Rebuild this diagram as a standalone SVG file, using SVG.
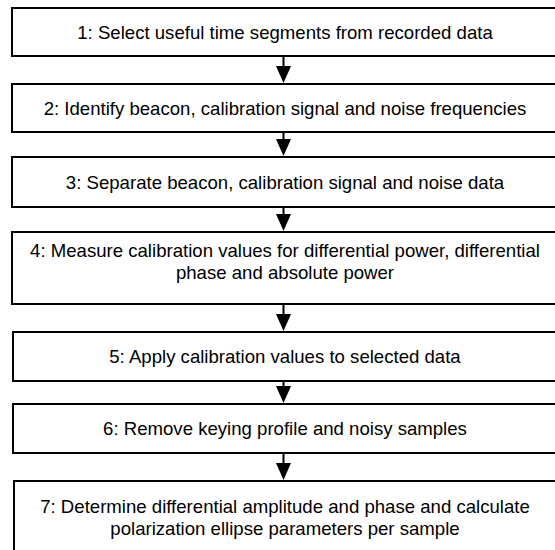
<svg xmlns="http://www.w3.org/2000/svg" width="555" height="550" viewBox="0 0 555 550">
  <style>
    .box { fill: #ffffff; stroke: #000000; stroke-width: 2; }
    .label { font-family: "Liberation Sans", Arial, sans-serif; font-size: 18.6px; fill: #000000; text-anchor: middle; }
    .link { stroke: #000000; stroke-width: 2; fill: none; }
    .head { fill: #000000; }
  </style>
  <defs>
    <!-- downward arrow head, tip at (0,0) -->
    <g id="arrow-head">
      <polygon class="head" points="-7.5,-17 7.5,-17 0,0"/>
    </g>
  </defs>
  <rect x="0" y="0" width="555" height="550" fill="#ffffff"/>

  <g id="connectors">
    <line class="link" x1="283.5" y1="56" x2="283.5" y2="66"/>
    <use href="#arrow-head" x="283.5" y="83"/>
    <line class="link" x1="283.5" y1="132" x2="283.5" y2="139"/>
    <use href="#arrow-head" x="283.5" y="156"/>
    <line class="link" x1="283.5" y1="207" x2="283.5" y2="214"/>
    <use href="#arrow-head" x="283.5" y="231"/>
    <line class="link" x1="283.5" y1="304" x2="283.5" y2="314"/>
    <use href="#arrow-head" x="283.5" y="331"/>
    <line class="link" x1="283.5" y1="381" x2="283.5" y2="386"/>
    <use href="#arrow-head" x="283.5" y="403"/>
    <line class="link" x1="283.5" y1="453" x2="283.5" y2="463"/>
    <use href="#arrow-head" x="283.5" y="480"/>
  </g>

  <g id="step1">
    <rect class="box" x="12" y="8" width="545" height="48"/>
    <text class="label" x="285" y="38.6">1: Select useful time segments from recorded data</text>
  </g>
  <g id="step2">
    <rect class="box" x="12" y="84" width="545" height="48"/>
    <text class="label" x="285" y="114.6">2: Identify beacon, calibration signal and noise frequencies</text>
  </g>
  <g id="step3">
    <rect class="box" x="12" y="157" width="545" height="50"/>
    <text class="label" x="285" y="188.6">3: Separate beacon, calibration signal and noise data</text>
  </g>
  <g id="step4">
    <rect class="box" x="12" y="232" width="545" height="72"/>
    <text class="label" x="285" y="256.5">4: Measure calibration values for differential power, differential</text>
    <text class="label" x="285" y="278.5">phase and absolute power</text>
  </g>
  <g id="step5">
    <rect class="box" x="13" y="332" width="544" height="49"/>
    <text class="label" x="285" y="363.1">5: Apply calibration values to selected data</text>
  </g>
  <g id="step6">
    <rect class="box" x="13" y="404" width="544" height="49"/>
    <text class="label" x="285" y="435.1">6: Remove keying profile and noisy samples</text>
  </g>
  <g id="step7">
    <rect class="box" x="14" y="481" width="543" height="72"/>
    <text class="label" x="285" y="513">7: Determine differential amplitude and phase and calculate</text>
    <text class="label" x="285" y="535">polarization ellipse parameters per sample</text>
  </g>
</svg>
